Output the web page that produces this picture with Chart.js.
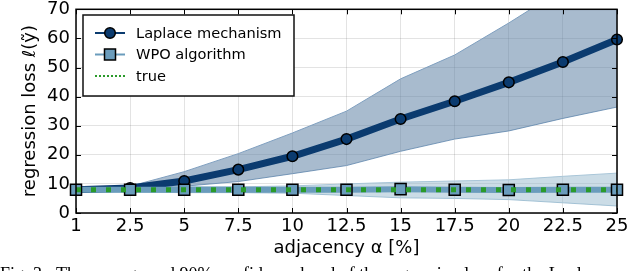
<!DOCTYPE html>
<html>
<head>
<meta charset="utf-8">
<script src="https://cdn.jsdelivr.net/npm/chart.js@4/dist/chart.umd.min.js"></script>
<style>
html,body{margin:0;padding:0;background:#fff;overflow:hidden;}
#wrap{position:relative;width:640px;height:271px;}
</style>
</head>
<body>
<div id="wrap"><canvas id="c" width="640" height="271"></canvas></div>
<script>
// ---- data ----
const alphaLabels = ['1','2.5','5','7.5','10','12.5','15','17.5','20','22.5','25'];
const laplaceMean  = [8.0, 8.6, 11.0, 14.9, 19.5, 25.4, 32.3, 38.4, 44.9, 51.9, 59.6];
const laplaceUpper = [8.2, 9.2, 14.2, 20.4, 27.5, 35.0, 46.1, 54.3, 65.3, 77.0, 88.0];
const laplaceLower = [7.8, 8.2, 9.2, 10.8, 13.5, 16.3, 21.2, 25.4, 28.2, 32.5, 36.4];
const wpoMean  = [8.0, 8.0, 8.0, 8.0, 8.0, 8.0, 8.2, 8.0, 7.9, 8.0, 8.0];
const wpoUpper = [8.8, 8.8, 9.0, 9.0, 9.3, 10.0, 10.6, 11.0, 11.4, 12.6, 13.7];
const wpoLower = [7.2, 7.2, 7.0, 7.0, 6.8, 6.0, 5.2, 5.0, 4.6, 3.5, 2.4];
const trueLoss = [8, 8, 8, 8, 8, 8, 8, 8, 8, 8, 8];
const yTicks = [0, 10, 20, 30, 40, 50, 60, 70];
const seriesNames = ['Laplace mechanism', 'WPO algorithm', 'true'];
const xTitle = 'adjacency α [%]';
const yTitle = 'regression loss ℓ(ỹ)';
const caption = 'Fig. 3:  The average and 90% confidence band of the regression loss for the Laplace mechanism and the WPO algorithm';

const NAVY = '#0b3b6f';
const STEEL = '#6a9cbc';
const GREEN = '#2a9a2a';

const legendPlugin = {
  id: 'mplLegend',
  afterDraw(chart) {
    const ctx = chart.ctx;
    ctx.save();
    // frame
    const a = chart.chartArea;
    // inward ticks
    const xs = chart.scales.x, ys = chart.scales.y;
    ctx.strokeStyle = '#000';
    ctx.lineWidth = 1;
    ctx.beginPath();
    for (let i = 0; i < xs.ticks.length; i++) {
      const px = Math.round(xs.getPixelForTick(i)) + 0.5;
      ctx.moveTo(px, a.bottom); ctx.lineTo(px, a.bottom - 5);
      ctx.moveTo(px, a.top); ctx.lineTo(px, a.top + 5);
    }
    for (let i = 0; i < ys.ticks.length; i++) {
      const py = Math.round(ys.getPixelForTick(i)) + 0.5;
      ctx.moveTo(a.left, py); ctx.lineTo(a.left + 5, py);
      ctx.moveTo(a.right, py); ctx.lineTo(a.right - 5, py);
    }
    ctx.stroke();
    ctx.lineWidth = 1.5;
    ctx.strokeRect(a.left, a.top, a.right - a.left, a.bottom - a.top);

    // legend box
    const bx = 83, by = 15, bw = 211, bh = 81;
    ctx.fillStyle = '#fff';
    ctx.fillRect(bx, by, bw, bh);
    ctx.lineWidth = 1.5;
    ctx.strokeStyle = '#111';
    ctx.strokeRect(bx, by, bw, bh);
    const rows = [33, 54.5, 76];
    ctx.font = '14.6px "DejaVu Sans"';
    ctx.textBaseline = 'middle';
    ctx.textAlign = 'left';
    // Laplace
    ctx.lineWidth = 2;
    ctx.strokeStyle = NAVY;
    ctx.beginPath(); ctx.moveTo(95, rows[0]); ctx.lineTo(125, rows[0]); ctx.stroke();
    ctx.beginPath(); ctx.arc(110, rows[0], 5.3, 0, Math.PI * 2);
    ctx.fillStyle = NAVY; ctx.fill();
    ctx.lineWidth = 1.5; ctx.strokeStyle = '#000'; ctx.stroke();
    // WPO
    ctx.lineWidth = 2;
    ctx.strokeStyle = STEEL;
    ctx.beginPath(); ctx.moveTo(95, rows[1]); ctx.lineTo(125, rows[1]); ctx.stroke();
    ctx.fillStyle = STEEL;
    ctx.fillRect(104.5, rows[1] - 5.5, 11, 11);
    ctx.lineWidth = 1.5; ctx.strokeStyle = '#000';
    ctx.strokeRect(104.5, rows[1] - 5.5, 11, 11);
    // true
    ctx.lineWidth = 2;
    ctx.strokeStyle = GREEN;
    ctx.setLineDash([2, 2]);
    ctx.beginPath(); ctx.moveTo(95, rows[2]); ctx.lineTo(125, rows[2]); ctx.stroke();
    ctx.setLineDash([]);
    ctx.fillStyle = '#000';
    seriesNames.forEach((n, i) => ctx.fillText(n, 136, rows[i] + 1));

    // caption
    ctx.font = '18px "Liberation Serif"';
    ctx.textBaseline = 'alphabetic';
    ctx.fillStyle = '#000';
    ctx.fillText(caption, 0, 280);
    ctx.restore();
  }
};

new Chart(document.getElementById('c'), {
  type: 'line',
  data: {
    labels: alphaLabels,
    datasets: [
      { label: 'laplaceLower', data: laplaceLower, borderColor: '#7f9fbf', borderWidth: 1, pointRadius: 0, fill: false, order: 10, tension: 0 },
      { label: 'laplaceUpper', data: laplaceUpper, borderColor: '#7f9fbf', borderWidth: 1, pointRadius: 0, fill: '-1', backgroundColor: 'rgba(88,125,162,0.52)', order: 9, tension: 0 },
      { label: 'wpoLower', data: wpoLower, borderColor: '#a9c6d8', borderWidth: 1, pointRadius: 0, fill: false, order: 8, tension: 0 },
      { label: 'wpoUpper', data: wpoUpper, borderColor: '#a9c6d8', borderWidth: 1, pointRadius: 0, fill: '-1', backgroundColor: 'rgba(140,178,200,0.45)', order: 7, tension: 0 },
      { label: seriesNames[0], data: laplaceMean, borderColor: NAVY, borderWidth: 7, pointRadius: 5.3, pointStyle: 'circle', pointBackgroundColor: NAVY, pointBorderColor: '#000', pointBorderWidth: 1.5, fill: false, order: 3, tension: 0, clip: 8 },
      { label: seriesNames[1], data: wpoMean, borderColor: STEEL, borderWidth: 6, pointRadius: 7.8, pointStyle: 'rect', pointBackgroundColor: STEEL, pointBorderColor: '#000', pointBorderWidth: 1.5, fill: false, order: 2, tension: 0, clip: 8 },
      { label: seriesNames[2], data: trueLoss, borderColor: GREEN, borderWidth: 5, borderDash: [5, 10], pointRadius: 0, fill: false, order: 1, tension: 0, borderCapStyle: 'butt' }
    ]
  },
  options: {
    responsive: false,
    animation: false,
    events: [],
    layout: { padding: { top: 7, right: 23, left: 0, bottom: 0 } },
    plugins: { legend: { display: false }, tooltip: { enabled: false }, filler: { propagate: false } },
    scales: {
      x: {
        type: 'category',
        offset: false,
        grid: { color: 'rgba(0,0,0,0.11)', lineWidth: 1, drawTicks: false },
        border: { display: false },
        ticks: { color: '#000', font: { family: 'DejaVu Sans', size: 18 }, padding: 3, maxRotation: 0, autoSkip: false },
        title: { display: true, text: xTitle, color: '#000', font: { family: 'DejaVu Sans', size: 18 }, padding: { top: 0, bottom: 11.5 } },
        afterFit(s) { s.height = 58; s.paddingLeft = 0; s.paddingRight = 0; }
      },
      y: {
        min: 0, max: 70,
        afterBuildTicks(s) { s.ticks = yTicks.map(v => ({ value: v })); },
        grid: { color: 'rgba(0,0,0,0.11)', lineWidth: 1, drawTicks: false },
        border: { display: false },
        ticks: { color: '#000', font: { family: 'DejaVu Sans', size: 18 }, padding: 6 },
        title: { display: true, text: yTitle, color: '#000', font: { family: 'DejaVu Sans', size: 18 }, padding: { top: 20, bottom: 0 } },
        afterFit(s) { s.width = 76; s.paddingTop = 0; s.paddingBottom = 0; }
      }
    }
  },
  plugins: [legendPlugin]
});
</script>
</body>
</html>
